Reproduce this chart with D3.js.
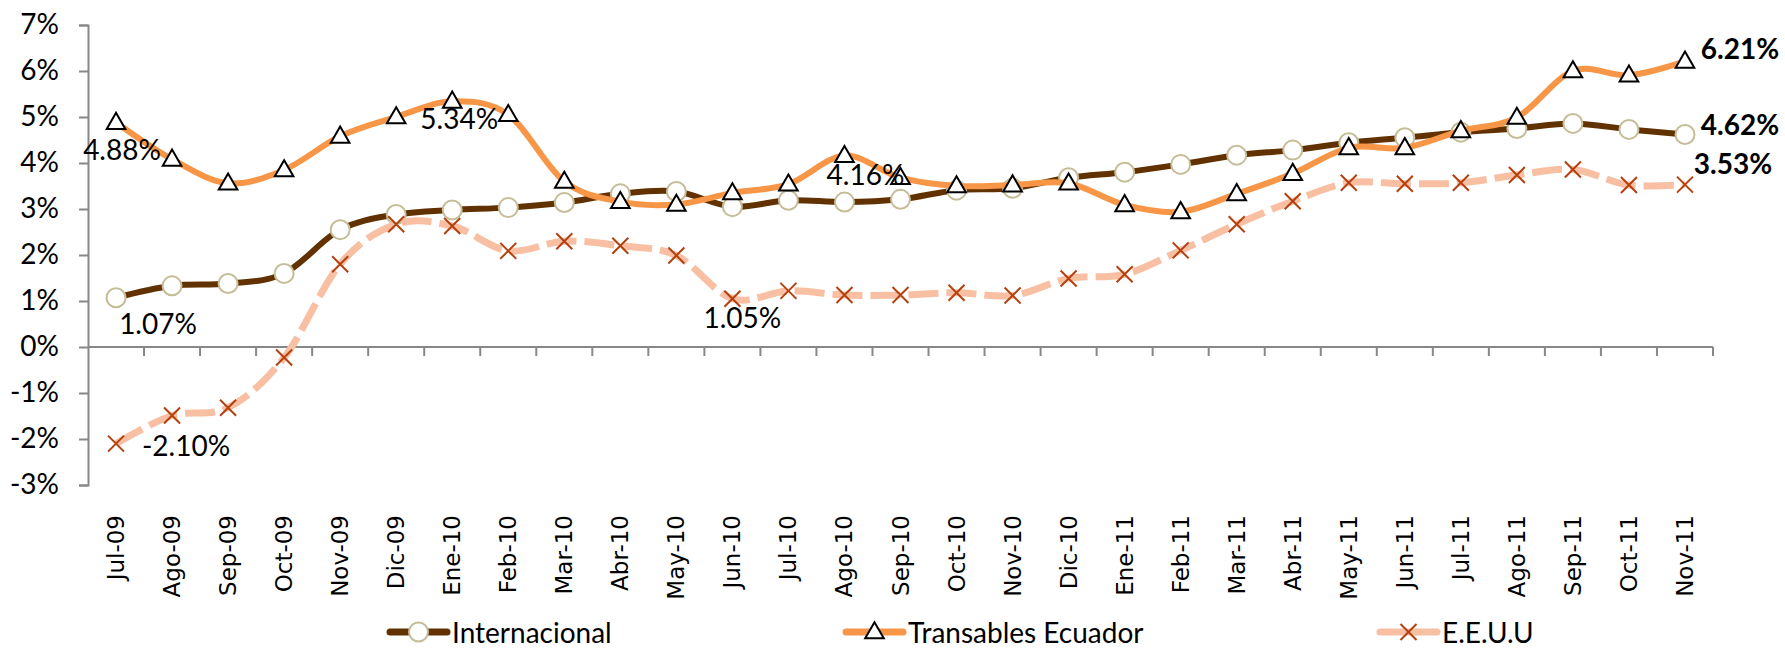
<!DOCTYPE html>
<html>
<head>
<meta charset="utf-8">
<script src="https://cdn.jsdelivr.net/npm/d3@7"></script>
<style>
  body { margin: 0; background: #fff; }
</style>
</head>
<body>
<div id="chart"></div>
<script>
// Categories (month labels)
const months = ["Jul-09","Ago-09","Sep-09","Oct-09","Nov-09","Dic-09","Ene-10","Feb-10","Mar-10","Abr-10",
  "May-10","Jun-10","Jul-10","Ago-10","Sep-10","Oct-10","Nov-10","Dic-10","Ene-11","Feb-11","Mar-11",
  "Abr-11","May-11","Jun-11","Jul-11","Ago-11","Sep-11","Oct-11","Nov-11"];

// Series values (%)
const internacional = [1.07,1.33,1.38,1.60,2.55,2.88,2.98,3.03,3.14,3.33,3.38,3.05,3.19,3.15,3.21,3.41,
  3.45,3.68,3.80,3.97,4.17,4.28,4.44,4.55,4.67,4.75,4.86,4.73,4.62];
const transables = [4.88,4.08,3.56,3.85,4.58,5.00,5.34,5.05,3.60,3.16,3.10,3.35,3.54,4.16,3.68,3.50,
  3.52,3.56,3.09,2.94,3.33,3.77,4.33,4.33,4.70,4.99,6.00,5.91,6.21];
const eeuu = [-2.10,-1.49,-1.32,-0.23,1.80,2.67,2.63,2.09,2.30,2.20,1.99,1.05,1.22,1.13,1.13,1.18,
  1.12,1.49,1.58,2.10,2.67,3.17,3.57,3.55,3.57,3.74,3.86,3.52,3.53];

// Y tick values
const yTicks = [-3,-2,-1,0,1,2,3,4,5,6,7];

const seriesNames = ["Internacional", "Transables Ecuador", "E.E.U.U"];

// Data labels shown on the chart: series index, month index, bold?
const dataLabels = [
  { s: 1, i: 0, dx: 6, dy: 26, bold: false },
  { s: 1, i: 6, dx: 7, dy: 17, bold: false },
  { s: 1, i: 13, dx: 21, dy: 18, bold: false },
  { s: 1, i: 28, dx: 55, dy: -13, bold: true },
  { s: 0, i: 28, dx: 55, dy: -10, bold: true },
  { s: 2, i: 28, dx: 48, dy: -22, bold: true },
  { s: 0, i: 0, dx: 42, dy: 25, bold: false },
  { s: 2, i: 0, dx: 70, dy: 1, bold: false },
  { s: 2, i: 11, dx: 10, dy: 18, bold: false }
];

const width = 1785, height = 650;
const plot = { left: 88, right: 1713, top: 25, bottom: 485 };

const svg = d3.select("#chart").append("svg")
  .attr("width", width)
  .attr("height", height);

const x = d3.scaleBand().domain(months).range([plot.left, plot.right]);
const y = d3.scaleLinear().domain([-3, 7]).range([plot.bottom, plot.top]);
const cx = m => x(m) + x.bandwidth() / 2;

const axisColor = "#878787";

// Y axis
const yAxis = svg.append("g")
  .attr("transform", `translate(${plot.left},0)`)
  .call(d3.axisLeft(y).tickValues(yTicks).tickFormat(d => d + "%").tickSize(9).tickSizeOuter(9).tickPadding(20));
yAxis.select(".domain").attr("stroke", axisColor).attr("stroke-width", 2);
yAxis.selectAll(".tick line").attr("stroke", axisColor).attr("stroke-width", 2);
yAxis.selectAll(".tick text")
  .attr("font-family", "Lato, sans-serif")
  .attr("font-size", 28)
  .attr("fill", "#000");

// X axis line at 0% with ticks between categories
const xAxis = svg.append("g");
xAxis.append("line")
  .attr("x1", plot.left).attr("x2", plot.right)
  .attr("y1", y(0)).attr("y2", y(0))
  .attr("stroke", axisColor).attr("stroke-width", 2);
const boundaries = months.map(m => x(m)).concat([plot.right]).slice(1);
xAxis.selectAll("line.tick").data(boundaries).join("line")
  .attr("class", "tick")
  .attr("x1", d => d).attr("x2", d => d)
  .attr("y1", y(0)).attr("y2", y(0) + 9)
  .attr("stroke", axisColor).attr("stroke-width", 2);

// Month labels at the bottom
svg.append("g").selectAll("text").data(months).join("text")
  .attr("transform", d => `translate(${cx(d) + 8},515) rotate(-90)`)
  .attr("text-anchor", "end")
  .attr("font-family", "DejaVu Sans, sans-serif")
  .attr("font-size", 23)
  .attr("fill", "#000")
  .text(d => d);

const line = d3.line()
  .x((d, i) => cx(months[i]))
  .y(d => y(d))
  .curve(d3.curveCardinal);

const styles = [
  { color: "#613200", width: 6, dash: null, marker: "circle" },
  { color: "#F79646", width: 6, dash: null, marker: "triangle" },
  { color: "#F8BFA2", width: 7, dash: "30,8", marker: "cross" }
];
const allSeries = [internacional, transables, eeuu];

function drawMarker(g, type) {
  if (type === "circle") {
    g.append("circle").attr("r", 9.5)
      .attr("fill", "#fff").attr("stroke", "#C4BD97").attr("stroke-width", 2);
  } else if (type === "triangle") {
    g.append("path").attr("d", d3.symbol(d3.symbolTriangle, 150)())
      .attr("transform", "translate(0,1)")
      .attr("fill", "#fff").attr("stroke", "#000").attr("stroke-width", 2);
  } else {
    g.append("path").attr("d", "M-8,-8L8,8M-8,8L8,-8")
      .attr("fill", "none").attr("stroke", "#B5400F").attr("stroke-width", 2);
  }
}

allSeries.forEach((vals, s) => {
  const st = styles[s];
  const g = svg.append("g");
  g.append("path")
    .datum(vals)
    .attr("d", line)
    .attr("fill", "none")
    .attr("stroke", st.color)
    .attr("stroke-width", st.width)
    .attr("stroke-dasharray", st.dash);
  g.selectAll("g.mk").data(vals).join("g")
    .attr("class", "mk")
    .attr("transform", (d, i) => `translate(${cx(months[i])},${y(d)})`)
    .each(function() { drawMarker(d3.select(this), st.marker); });
});

// Data labels
svg.append("g").selectAll("text").data(dataLabels).join("text")
  .attr("x", d => cx(months[d.i]) + d.dx)
  .attr("y", d => y(allSeries[d.s][d.i]) + d.dy)
  .attr("text-anchor", "middle")
  .attr("dominant-baseline", "central")
  .attr("font-family", "Lato, sans-serif")
  .attr("font-size", 28)
  .attr("font-weight", d => d.bold ? "bold" : "normal")
  .attr("fill", "#000")
  .text(d => allSeries[d.s][d.i].toFixed(2) + "%");

// Legend
const legendX = [390, 846, 1380];
const legend = svg.append("g");
seriesNames.forEach((name, s) => {
  const st = styles[s];
  const lg = legend.append("g").attr("transform", `translate(${legendX[s]},632)`);
  lg.append("line").attr("x1", 0).attr("x2", 57).attr("y1", 0).attr("y2", 0)
    .attr("stroke", st.color).attr("stroke-width", 7).attr("stroke-linecap", "round");
  drawMarker(lg.append("g").attr("transform", "translate(28.5,0)"), st.marker);
  lg.append("text").attr("x", 62).attr("y", 0)
    .attr("dominant-baseline", "central")
    .attr("font-family", "Lato, sans-serif")
    .attr("font-size", 28)
    .attr("fill", "#000")
    .text(name);
});
</script>
</body>
</html>
